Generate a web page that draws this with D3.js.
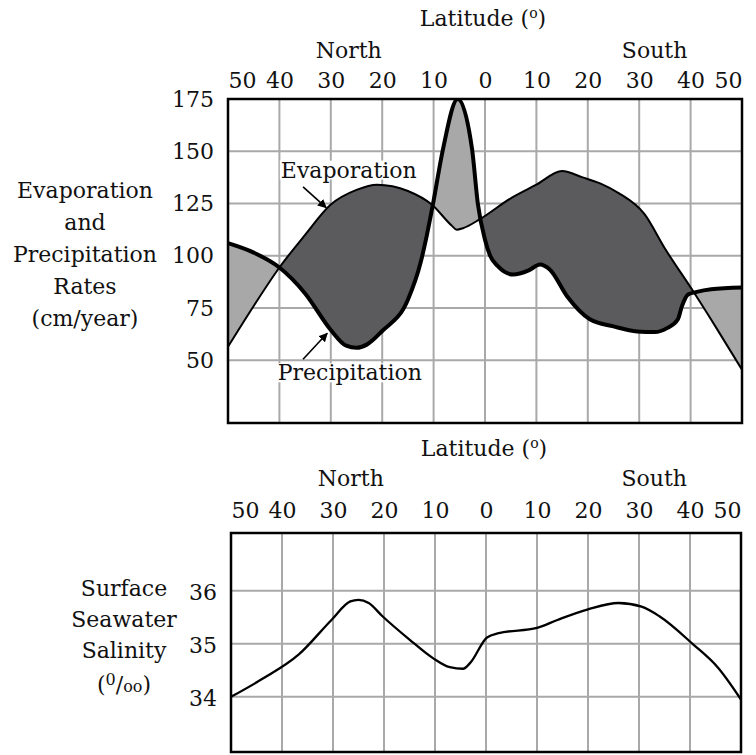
<!DOCTYPE html>
<html>
<head>
<meta charset="utf-8">
<script src="https://cdn.jsdelivr.net/npm/d3@7"></script>
<style>
  body { margin: 0; background: #fff; }
  text { font-family: "DejaVu Serif", serif; fill: #111; }
</style>
</head>
<body>
<svg id="chart" width="756" height="755"></svg>
<script>
// latitude ticks, north positive (left), south negative (right)
const latTicks = [50, 40, 30, 20, 10, 0, -10, -20, -30, -40, -50];
const rateTicks = [175, 150, 125, 100, 75, 50];
const salTicks = [36, 35, 34];

// evaporation (cm/year)
const evapLat = [50, 45, 40, 35, 30, 25, 21, 15, 10.3, 6.5, 5.5, 4.3, 1, -5, -10, -15, -19, -22.5, -26, -31, -35, -40.5, -45, -50];
const evapVal = [56.5, 76, 94.4, 110, 124.5, 131.5, 134, 131, 124.4, 114.5, 112.5, 113.2, 117.5, 127.5, 134, 140.5, 137.5, 134.5, 130, 120, 103.5, 83, 65.5, 45.5];

// precipitation (cm/year)
const precipLat = [50, 45, 40, 35, 30, 27, 25, 23, 20, 15, 12.5, 11.3, 10.1, 8.2, 5.3, 2.5, 1.4, 0, -1, -2.5, -5.5, -8.5, -10.7, -12.6, -16, -20.4, -25, -29.6, -33, -35.5, -37.5, -38.3, -39.5, -41, -44, -50];
const precipVal = [106, 101.5, 94.4, 82, 64.5, 57, 56, 57.5, 64, 79, 97, 110, 125, 150.7, 175, 150.7, 125, 107.7, 100, 95, 91, 93, 95.8, 93.4, 80.5, 69.6, 66.2, 63.8, 63.5, 65.5, 69.5, 75.8, 81.5, 82.6, 84, 84.8];

// surface salinity (parts per thousand)
const salLat = [50, 44, 36.7, 30.3, 26.6, 25, 23, 20.3, 15, 10.4, 7.1, 4.5, 3.1, -0.2, -2.5, -10, -14, -20, -26, -30.5, -34, -40.5, -45.5, -50];
const salVal = [34.0, 34.33, 34.8, 35.45, 35.8, 35.83, 35.77, 35.52, 35.08, 34.73, 34.56, 34.53, 34.64, 35.12, 35.2, 35.3, 35.45, 35.65, 35.77, 35.7, 35.52, 35.0, 34.55, 33.95];

// annotations [lat, value]
const evapLabel = [26.5, 141];
const evapArrow = [[35.4, 133], [30.9, 123]];
const precipLabel = [26.3, 44];
const precipArrow = [[35.4, 50.5], [30.7, 62.9]];

const svg = d3.select('#chart');
const defs = svg.append('defs');

// ---------- top chart ----------
const box1 = { l: 228, r: 742, t: 99, b: 423 };
const x1 = d3.scaleLinear().domain([50, -50]).range([box1.l, box1.r]);
const y1 = d3.scaleLinear().domain([20, 175]).range([box1.b, box1.t]);

const g1 = svg.append('g');

g1.selectAll('line.vgrid').data(latTicks.slice(1, -1)).join('line')
  .attr('x1', d => x1(d)).attr('x2', d => x1(d))
  .attr('y1', box1.t).attr('y2', box1.b)
  .attr('stroke', '#a9a9a9').attr('stroke-width', 2);
g1.selectAll('line.hgrid').data(rateTicks.slice(1)).join('line')
  .attr('x1', box1.l).attr('x2', box1.r)
  .attr('y1', d => y1(d)).attr('y2', d => y1(d))
  .attr('stroke', '#a9a9a9').attr('stroke-width', 2);

const evap = evapLat.map((d, i) => [d, evapVal[i]]);
const precip = precipLat.map((d, i) => [d, precipVal[i]]);

const below = d3.area().x(d => x1(d[0])).y0(box1.b).y1(d => y1(d[1])).curve(d3.curveMonotoneX);
const above = d3.area().x(d => x1(d[0])).y0(box1.t).y1(d => y1(d[1])).curve(d3.curveMonotoneX);
const line1 = d3.line().x(d => x1(d[0])).y(d => y1(d[1])).curve(d3.curveMonotoneX);

defs.append('clipPath').attr('id', 'abovePrecip').append('path').attr('d', above(precip));
defs.append('clipPath').attr('id', 'aboveEvap').append('path').attr('d', above(evap));
defs.append('clipPath').attr('id', 'clipBox1').append('rect')
  .attr('x', box1.l).attr('y', box1.t).attr('width', box1.r - box1.l).attr('height', box1.b - box1.t);

const plot1 = g1.append('g').attr('clip-path', 'url(#clipBox1)');
// evaporation exceeds precipitation
plot1.append('path').attr('d', below(evap)).attr('fill', '#5b5b5d').attr('clip-path', 'url(#abovePrecip)');
// precipitation exceeds evaporation
plot1.append('path').attr('d', below(precip)).attr('fill', '#a8a8a8').attr('clip-path', 'url(#aboveEvap)');

plot1.append('path').attr('d', line1(evap)).attr('fill', 'none').attr('stroke', '#000').attr('stroke-width', 2);
plot1.append('path').attr('d', line1(precip)).attr('fill', 'none').attr('stroke', '#000').attr('stroke-width', 4);

g1.append('rect').attr('x', box1.l).attr('y', box1.t).attr('width', box1.r - box1.l).attr('height', box1.b - box1.t)
  .attr('fill', 'none').attr('stroke', '#000').attr('stroke-width', 2.5);

// arrows
defs.append('marker').attr('id', 'head').attr('viewBox', '0 0 10 10').attr('refX', 9).attr('refY', 5)
  .attr('markerWidth', 9).attr('markerHeight', 9).attr('orient', 'auto').attr('markerUnits', 'userSpaceOnUse')
  .append('path').attr('d', 'M0,0L10,5L0,10z').attr('fill', '#000');

[evapArrow, precipArrow].forEach(a => {
  g1.append('line')
    .attr('x1', x1(a[0][0])).attr('y1', y1(a[0][1]))
    .attr('x2', x1(a[1][0])).attr('y2', y1(a[1][1]))
    .attr('stroke', '#000').attr('stroke-width', 1.6).attr('marker-end', 'url(#head)');
});

function boxedLabel(g, x, y, str) {
  const bg = g.append('rect').attr('fill', '#fff');
  const t = g.append('text').attr('x', x).attr('y', y).attr('text-anchor', 'middle')
    .attr('dominant-baseline', 'central').attr('font-size', 22).text(str);
  const bb = t.node().getBBox();
  bg.attr('x', bb.x - 1).attr('y', bb.y + 3).attr('width', bb.width + 2).attr('height', bb.height - 6);
}
boxedLabel(g1, x1(evapLabel[0]), y1(evapLabel[1]), 'Evaporation');
boxedLabel(g1, x1(precipLabel[0]), y1(precipLabel[1]), 'Precipitation');

// axes
function latHeader(g, x, yNum, yNS, yTitle) {
  const ax = d3.axisTop(x).tickValues(latTicks).tickFormat(d => Math.abs(d)).tickSize(0).tickPadding(0);
  const a = g.append('g').attr('transform', `translate(0,${yNum})`).call(ax);
  a.select('.domain').remove();
  a.selectAll('text').attr('font-size', 22).attr('font-family', '"DejaVu Serif", serif').attr('fill', '#111')
    .attr('dy', '0.35em');
  a.selectAll('.tick').filter(d => d === 50).select('text').attr('text-anchor', 'start');
  a.selectAll('.tick').filter(d => d === -50).select('text').attr('text-anchor', 'end');
  g.append('text').attr('x', x(26.5)).attr('y', yNS).attr('text-anchor', 'middle')
    .attr('dominant-baseline', 'central').attr('font-size', 22).text('North');
  g.append('text').attr('x', x(-33)).attr('y', yNS).attr('text-anchor', 'middle')
    .attr('dominant-baseline', 'central').attr('font-size', 22).text('South');
  const tt = g.append('text').attr('x', x(0) - 2).attr('y', yTitle + 8).attr('text-anchor', 'middle')
    .attr('font-size', 22);
  tt.append('tspan').text('Latitude (');
  tt.append('tspan').attr('font-size', 14).attr('dy', -8).text('o');
  tt.append('tspan').attr('dy', 8).text(')');
}
latHeader(g1, x1, 80, 50, 18);

const ay1 = g1.append('g').attr('transform', `translate(${box1.l - 14},0)`)
  .call(d3.axisLeft(y1).tickValues(rateTicks).tickSize(0).tickPadding(0));
ay1.select('.domain').remove();
ay1.selectAll('text').attr('font-size', 22).attr('font-family', '"DejaVu Serif", serif').attr('fill', '#111');

const yTitle1 = ['Evaporation', 'and', 'Precipitation', 'Rates', '(cm/year)'];
g1.selectAll('text.yt').data(yTitle1).join('text').attr('class', 'yt')
  .attr('x', 85).attr('y', (d, i) => 190 + i * 32).attr('text-anchor', 'middle')
  .attr('dominant-baseline', 'central').attr('font-size', 22).text(d => d);

// ---------- bottom chart ----------
const box2 = { l: 231, r: 741, t: 533, b: 752 };
const x2 = d3.scaleLinear().domain([50, -50]).range([box2.l, box2.r]);
const y2 = d3.scaleLinear().domain([32.96, 37.09]).range([box2.b, box2.t]);

const g2 = svg.append('g');
g2.selectAll('line.vgrid').data(latTicks.slice(1, -1)).join('line')
  .attr('x1', d => x2(d)).attr('x2', d => x2(d))
  .attr('y1', box2.t).attr('y2', box2.b)
  .attr('stroke', '#a9a9a9').attr('stroke-width', 2);
g2.selectAll('line.hgrid').data(salTicks).join('line')
  .attr('x1', box2.l).attr('x2', box2.r)
  .attr('y1', d => y2(d)).attr('y2', d => y2(d))
  .attr('stroke', '#a9a9a9').attr('stroke-width', 2);

const sal = salLat.map((d, i) => [d, salVal[i]]);
const line2 = d3.line().x(d => x2(d[0])).y(d => y2(d[1])).curve(d3.curveMonotoneX);
g2.append('path').attr('d', line2(sal)).attr('fill', 'none').attr('stroke', '#000').attr('stroke-width', 2.3);

g2.append('rect').attr('x', box2.l).attr('y', box2.t).attr('width', box2.r - box2.l).attr('height', box2.b - box2.t)
  .attr('fill', 'none').attr('stroke', '#000').attr('stroke-width', 2.5);

latHeader(g2, x2, 510, 478, 448);

const ay2 = g2.append('g').attr('transform', `translate(${box2.l - 14},2)`)
  .call(d3.axisLeft(y2).tickValues(salTicks).tickFormat(d3.format('d')).tickSize(0).tickPadding(0));
ay2.select('.domain').remove();
ay2.selectAll('text').attr('font-size', 22).attr('font-family', '"DejaVu Serif", serif').attr('fill', '#111');

const yTitle2 = ['Surface', 'Seawater', 'Salinity'];
g2.selectAll('text.yt').data(yTitle2).join('text').attr('class', 'yt')
  .attr('x', 124).attr('y', (d, i) => 588 + i * 31).attr('text-anchor', 'middle')
  .attr('dominant-baseline', 'central').attr('font-size', 22).text(d => d);
const unit = g2.append('text').attr('x', 124).attr('y', 692).attr('text-anchor', 'middle').attr('font-size', 22);
unit.append('tspan').text('(');
unit.append('tspan').attr('font-size', 16).attr('dy', -7).text('0');
unit.append('tspan').attr('dy', 7).text('/');
unit.append('tspan').attr('font-size', 16).text('oo');
unit.append('tspan').text(')');
</script>
</body>
</html>
